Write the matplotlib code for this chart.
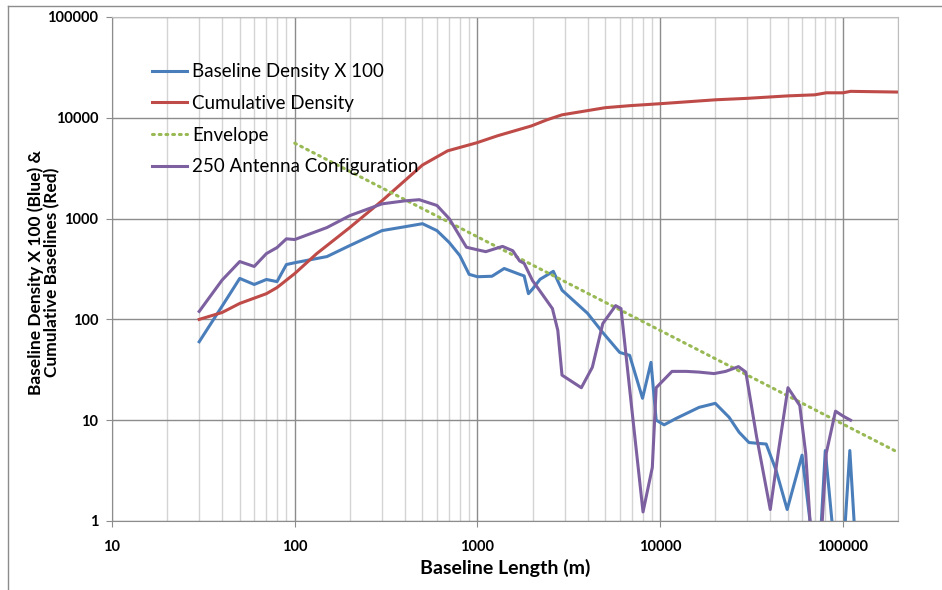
import numpy as np
import matplotlib
matplotlib.use("Agg")
import matplotlib.pyplot as plt
from matplotlib.lines import Line2D
from matplotlib.ticker import FixedLocator, NullFormatter, LogLocator

plt.rcParams['font.family'] = ['Lato', 'DejaVu Sans']

# values (x in metres)
blue_x = [30, 40, 50, 60, 70, 80, 90, 100, 150, 200, 300, 400, 500, 600, 700, 800,
          900, 1000, 1200, 1400, 1700, 1800, 1900, 2000, 2200, 2600, 2900, 4000, 4850,
          6000, 6800, 8000, 8900, 9500, 10500, 12200, 16300, 20000, 23800, 27000, 30600,
          38000, 43000, 49500, 59700, 66000, 70000, 75000, 80000, 87000, 95000, 103000,
          109000, 115000, 120000]
blue_y = [60, 135, 255, 222, 249, 237, 350, 365, 420, 540, 760, 830, 890, 760, 580, 430,
          280, 265, 268, 320, 280, 270, 180, 200, 250, 300, 195, 115, 74,
          47, 44, 16.5, 37.5, 10, 9, 10.4, 13.4, 14.7, 10.7, 7.6, 6,
          5.8, 3.2, 1.3, 4.5, 1, 0.2, 0.6, 5, 1, 0.2, 1,
          5, 1, 0.2]

red_x = [30, 40, 50, 70, 80, 100, 132, 200, 300, 400, 500, 686, 990, 1290, 1970, 2400,
         2900, 5000, 6850, 10000, 20200, 30000, 50000, 70000, 81000, 100000, 110000, 200000]
red_y = [100, 117, 144, 180, 207, 285, 450, 815, 1500, 2380, 3400, 4700, 5650, 6640, 8300, 9550,
         10700, 12600, 13200, 13800, 15100, 15600, 16500, 16900, 17700, 17700, 18300, 18000]

env_x = [100, 200000]
env_y = [5600, 4.8]

purple_x = [30, 40, 50, 60, 70, 80, 90, 100, 150, 200, 300, 400, 480, 600, 700, 870,
            1000, 1110, 1370, 1560, 1700, 1800, 2000, 2250, 2570, 2750, 2900, 3700, 4250,
            4850, 5700, 6100, 7000, 8050, 9050, 9500, 11600, 13900, 16300, 19700, 22800,
            26800, 29400, 33600, 40000, 44400, 50000, 58000, 62500, 66000, 70000, 77000,
            81000, 91000, 100000, 110000]
purple_y = [120, 245, 375, 335, 450, 516, 630, 620, 815, 1070, 1400, 1500, 1540, 1350, 1000, 520,
            490, 470, 530, 480, 380, 360, 243, 180, 128, 78, 28, 21, 33.5,
            91, 137, 128, 12.6, 1.23, 3.4, 21, 30.5, 30.5, 30, 29, 30.5,
            34, 30, 7, 1.3, 5, 21, 14, 4.7, 1, 0.2, 1,
            4.7, 12.3, 11, 10]

x_ticks = [10, 100, 1000, 10000, 100000]
y_ticks = [1, 10, 100, 1000, 10000, 100000]

fig = plt.figure(figsize=(9.42, 5.9), dpi=100)
ax = fig.add_axes([112/942, 1 - 521/590, 786/942, 504/590])

ax.plot(blue_x, blue_y, color='#4A7EBB', lw=2.2, label='Baseline Density X 100', solid_joinstyle='round')
ax.plot(red_x, red_y, color='#BE4B48', lw=2.2, label='Cumulative Density', solid_joinstyle='round')
ax.plot(env_x, env_y, color='#98B954', lw=2.2, linestyle=(0, (0.6, 1.6)),
        dash_capstyle='round', label='Envelope')
ax.plot(purple_x, purple_y, color='#7D60A0', lw=2.2, label='250 Antenna Configuration',
        solid_joinstyle='round')

ax.set_xscale('log')
ax.set_yscale('log')
ax.set_xlim(10, 200000)
ax.set_ylim(1, 100000)

ax.xaxis.set_major_locator(FixedLocator(x_ticks))
ax.set_xticklabels([str(v) for v in x_ticks], fontweight='bold', fontsize=10.5)
ax.xaxis.set_minor_locator(LogLocator(base=10, subs=np.arange(2, 10)))
ax.xaxis.set_minor_formatter(NullFormatter())
ax.yaxis.set_major_locator(FixedLocator(y_ticks))
ax.set_yticklabels([str(v) for v in y_ticks], fontweight='bold', fontsize=10.5)
ax.yaxis.set_minor_locator(FixedLocator([]))

ax.grid(which='major', color='#8c8c8c', lw=1.0)
ax.grid(which='minor', axis='x', color='#d4d4d4', lw=1.0)
ax.set_axisbelow(True)
for s in ax.spines.values():
    s.set_color('#bdbdbd')
ax.spines['left'].set_color('#8c8c8c')
ax.spines['bottom'].set_color('#8c8c8c')
ax.tick_params(which='major', length=4, color='#8c8c8c', pad=6)
ax.tick_params(which='minor', length=0)
ax.tick_params(axis='x', pad=10)

ax.set_xlabel('Baseline Length (m)', fontweight='bold', fontsize=14)
ax.xaxis.set_label_coords(0.5, -0.075)
ax.set_ylabel('Baseline Density X 100 (Blue) &\nCumulative Baselines (Red)',
              fontweight='bold', fontsize=12.5, linespacing=1.0)
ax.yaxis.set_label_coords(-0.066, 0.494)

ax.legend(loc='upper left', bbox_to_anchor=(0.051, 0.908), frameon=False,
          fontsize=13.5, handlelength=1.85, handletextpad=0.3, labelspacing=0.78,
          borderpad=0, borderaxespad=0)

# chart area border (only top and left visible in the crop)
fig.add_artist(Line2D([8/942, 8/942], [0, 1 - 6/590], transform=fig.transFigure,
                      color='#8c8c8c', lw=1))
fig.add_artist(Line2D([8/942, 1], [1 - 6/590, 1 - 6/590], transform=fig.transFigure,
                      color='#8c8c8c', lw=1))

fig.savefig('out.png', dpi=100)
